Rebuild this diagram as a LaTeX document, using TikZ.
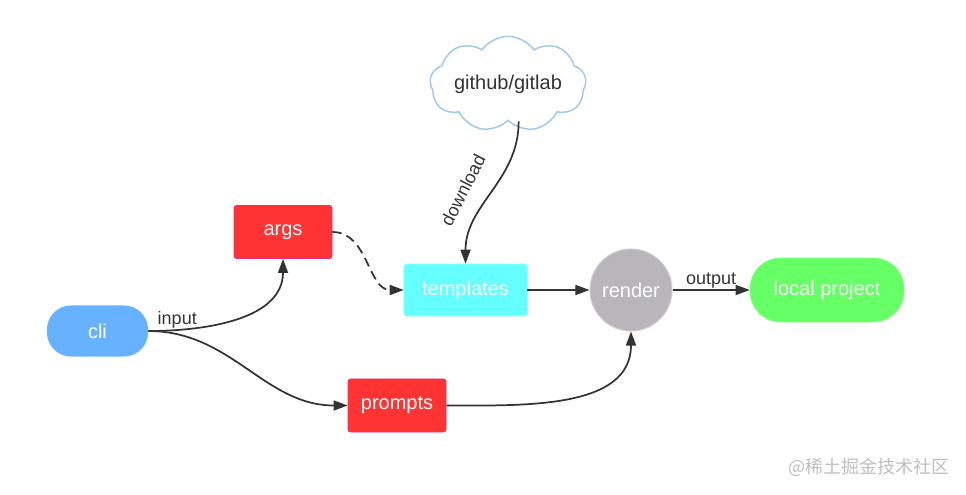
\documentclass[tikz,border=0pt]{standalone}
\usepackage{fontspec}
\setmainfont{Liberation Sans}
\newfontfamily\cjk{Noto Sans CJK SC}
\usetikzlibrary{arrows.meta,shapes.symbols}

\definecolor{cliblue}{RGB}{102,178,255}
\definecolor{boxred}{RGB}{255,51,51}
\definecolor{boxedge}{RGB}{232,48,118}
\definecolor{tplcyan}{RGB}{102,255,255}
\definecolor{rendergray}{RGB}{184,182,186}
\definecolor{renderedge}{RGB}{206,204,208}
\definecolor{localgreen}{RGB}{102,255,102}
\definecolor{cloudline}{RGB}{160,200,232}
\definecolor{linegray}{RGB}{51,51,51}

\tikzset{
  boxtext/.style={text=white, font=\fontsize{15pt}{18pt}\selectfont},
  stadium/.style={boxtext, minimum width=#1, rounded corners=18pt},
  redbox/.style={boxtext, fill=boxred, draw=boxedge, line width=0.6pt,
    rounded corners=2pt, minimum width=73.5pt, minimum height=39.8pt},
  flow/.style={draw=linegray, line width=1.3pt,
    -{Triangle[length=10.5pt,width=7.5pt]}},
  lbl/.style={text=linegray, font=\fontsize{13.5pt}{16pt}\selectfont, inner sep=1pt}
}

\begin{document}
\begin{tikzpicture}[x=0.75pt, y=0.75pt]
\useasboundingbox (0,0) rectangle (966,494);

\node[stadium=75.8pt, fill=cliblue, minimum height=38.3pt] (cli) at (97.5,163) {cli};
\node[redbox] (args) at (283,262) {args};
\node[redbox] (prompts) at (397,88.5) {prompts};
\node[boxtext, fill=tplcyan, draw=tplcyan!70!white, rounded corners=2pt,
  minimum width=92.3pt, minimum height=39pt] (templates) at (465.5,204) {templates};
\node[boxtext, circle, fill=rendergray, draw=renderedge, line width=0.8pt,
  minimum size=61.5pt, inner sep=0pt] (render) at (631,204) {render};
\node[stadium=115.5pt, fill=localgreen, draw=localgreen!80!white,
  minimum height=48pt, rounded corners=23pt] (local) at (827,204) {local project};
\node[cloud, cloud puffs=9, cloud puff arc=110, aspect=2.1, draw=cloudline,
  line width=1.1pt, fill=white, text=linegray, inner sep=0pt,
  minimum width=114pt, minimum height=54pt,
  font=\fontsize{15pt}{18pt}\selectfont] (cloud) at (508,410) {github/gitlab};

\draw[flow] (cli.east) to[out=0, in=-90] node[lbl, pos=0.1, above, xshift=8pt] {input} (args.south);
\draw[flow] (cli.east) to[out=0, in=180] (prompts.west);
\draw[flow, dashed, dash pattern=on 7pt off 4pt] (args.east) to[out=0, in=180] (templates.west);
\draw[flow] ([xshift=8pt]cloud.south) to[out=-90, in=90] (templates.north);
\node[lbl, rotate=63] (download) at (463,304) {download};
\draw[flow] (templates.east) -- (render.west);
\draw[flow] (prompts.east) to[out=0, in=-90] (render.south);
\draw[flow] (render.east) -- node[lbl, above] {output} (local.west);

\node[text=black!25, font=\cjk\fontsize{13.5pt}{16pt}\selectfont] (mark) at (869,27) {@稀土掘金技术社区};

\end{tikzpicture}
\end{document}
